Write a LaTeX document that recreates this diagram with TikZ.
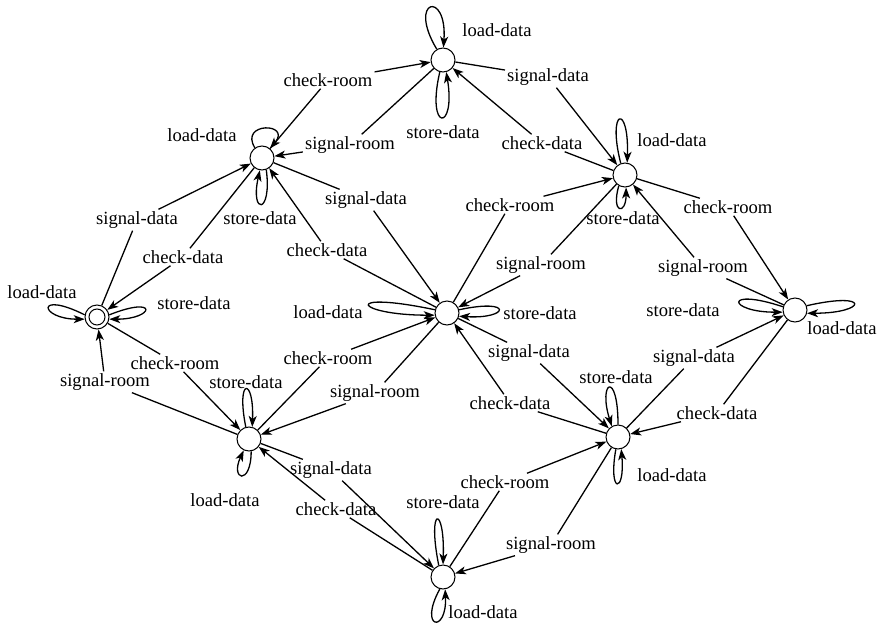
\documentclass[tikz,border=0pt]{standalone}
\usepackage{fontspec}
\setmainfont{Liberation Serif}
\usetikzlibrary{arrows.meta}
\begin{document}
\begin{tikzpicture}[x=1pt,y=-1pt,
  st/.style={circle,draw,line width=1pt,minimum size=24pt,inner sep=0pt},
  lbl/.style={font=\fontsize{18.6}{20}\selectfont,inner sep=2pt},
  conn/.style={line width=1.3pt,-{Stealth[length=11pt,width=8pt,inset=3pt]}}]
\useasboundingbox (0,0) rectangle (880,629);
% states
\node[st] (A) at (97,317) {};
\node[st,minimum size=16pt] (Ain) at (97,317) {};
\node[st] (B) at (262,158) {};
\node[st] (C) at (443,60) {};
\node[st] (D) at (625,175) {};
\node[st] (E) at (447,313) {};
\node[st] (F) at (795,310) {};
\node[st] (G) at (249,439) {};
\node[st] (H) at (618,437) {};
\node[st] (I) at (443,577) {};
% edge labels
\node[lbl] (ab) at (137,220) {signal-data};
\node[lbl] (ba) at (183,257) {check-data};
\node[lbl] (bc) at (328,80) {check-room};
\node[lbl] (cb) at (350,145) {signal-room};
\node[lbl] (cd) at (548,77) {signal-data};
\node[lbl] (dc) at (542,143) {check-data};
\node[lbl] (be) at (366,200) {signal-data};
\node[lbl] (eb) at (327,250) {check-data};
\node[lbl] (ag) at (175,363) {check-room};
\node[lbl] (ga) at (105,382) {signal-room};
\node[lbl] (ge) at (328,358) {check-room};
\node[lbl] (eg) at (375,393) {signal-room};
\node[lbl] (ed) at (510,205) {check-room};
\node[lbl] (de) at (541,265) {signal-room};
\node[lbl] (df) at (728,207) {check-room};
\node[lbl] (fd) at (703,268) {signal-room};
\node[lbl] (eh) at (529,353) {signal-data};
\node[lbl] (he) at (510,403) {check-data};
\node[lbl] (hf) at (694,358) {signal-data};
\node[lbl] (fh) at (717,413) {check-data};
\node[lbl] (gi) at (331,470) {signal-data};
\node[lbl] (ig) at (336,509) {check-data};
\node[lbl] (ih) at (505,482) {check-room};
\node[lbl] (hi) at (551,545) {signal-room};
% loop labels
\node[lbl] (lC) at (497,30) {load-data};
\node[lbl] (sC) at (443,132) {store-data};
\node[lbl] (lB) at (202,135) {load-data};
\node[lbl] (sB) at (260,218) {store-data};
\node[lbl] (lA) at (42,292) {load-data};
\node[lbl] (sA) at (194,303) {store-data};
\node[lbl] (lD) at (672,140) {load-data};
\node[lbl] (sD) at (623,218) {store-data};
\node[lbl] (lE) at (328,312) {load-data};
\node[lbl] (sE) at (540,313) {store-data};
\node[lbl] (sF) at (683,310) {store-data};
\node[lbl] (lF) at (842,328) {load-data};
\node[lbl] (sG) at (246,382) {store-data};
\node[lbl] (lG) at (225,500) {load-data};
\node[lbl] (sH) at (616,377) {store-data};
\node[lbl] (lH) at (672,475) {load-data};
\node[lbl] (sI) at (443,502) {store-data};
\node[lbl] (lI) at (483,612) {load-data};
% transitions
\draw[conn] (A) -- (ab) -- (B);
\draw[conn] (B) -- (ba) -- (A);
\draw[conn] (B) -- (bc) -- (C);
\draw[conn] (C) -- (cb) -- (B);
\draw[conn] (C) -- (cd) -- (D);
\draw[conn] (D) -- (dc) -- (C);
\draw[conn] (B) -- (be) -- (E);
\draw[conn] (E) -- (eb) -- (B);
\draw[conn] (A) -- (ag) -- (G);
\draw[conn] (G) -- (ga) -- (A);
\draw[conn] (G) -- (ge) -- (E);
\draw[conn] (E) -- (eg) -- (G);
\draw[conn] (E) -- (ed) -- (D);
\draw[conn] (D) -- (de) -- (E);
\draw[conn] (D) -- (df) -- (F);
\draw[conn] (F) -- (fd) -- (D);
\draw[conn] (E) -- (eh) -- (H);
\draw[conn] (H) -- (he) -- (E);
\draw[conn] (H) -- (hf) -- (F);
\draw[conn] (F) -- (fh) -- (H);
\draw[conn] (G) -- (gi) -- (I);
\draw[conn] (I) -- (ig) -- (G);
\draw[conn] (I) -- (ih) -- (H);
\draw[conn] (H) -- (hi) -- (I);
% self loops
\draw[conn] (C.120) .. controls +(-30,-50) and +(4,-58) .. (C.88);
\draw[conn] (C.255) .. controls +(-14,60) and +(10,60) .. (C.285);
\draw[conn] (B.125) .. controls +(-16,-26) and +(22,-26) .. (B.50);
\draw[conn] (B.290) .. controls +(6,45) and +(-10,45) .. (B.260);
\draw[conn] (A.170) .. controls +(-50,-25) and +(-45,0) .. (A.190);
\draw[conn] (A.10) .. controls +(50,-20) and +(45,0) .. (A.350);
\draw[conn] (D.110) .. controls +(-14,-55) and +(2,-60) .. (D.80);
\draw[conn] (D.240) .. controls +(-8,28) and +(0,28) .. (D.275);
\draw[conn] (E.165) .. controls +(-95,-20) and +(-80,0) .. (E.190);
\draw[conn] (E.15) .. controls +(55,-12) and +(50,3) .. (E.345);
\draw[conn] (F.165) .. controls +(-60,-20) and +(-55,0) .. (F.190);
\draw[conn] (F.20) .. controls +(65,-15) and +(60,0) .. (F.345);
\draw[conn] (G.105) .. controls +(-10,-50) and +(2,-50) .. (G.75);
\draw[conn] (G.280) .. controls +(0,35) and +(-14,30) .. (G.245);
\draw[conn] (H.90) .. controls +(0,-55) and +(-14,-45) .. (H.120);
\draw[conn] (H.260) .. controls +(-8,45) and +(4,45) .. (H.285);
\draw[conn] (I.110) .. controls +(-12,-60) and +(2,-60) .. (I.90);
\draw[conn] (I.255) .. controls +(-22,40) and +(2,45) .. (I.280);
\end{tikzpicture}
\end{document}
